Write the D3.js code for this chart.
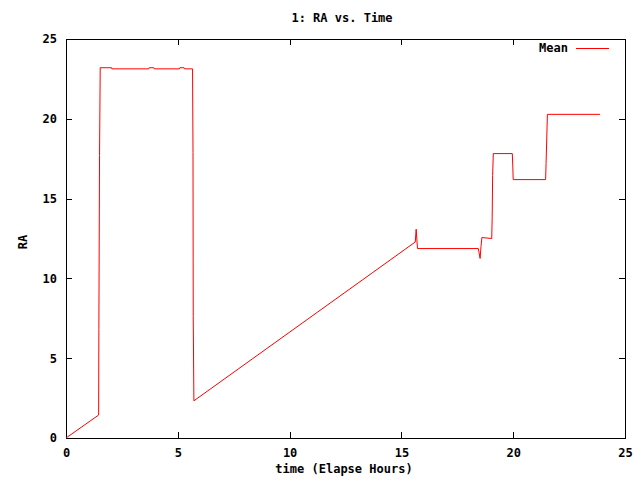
<!DOCTYPE html>
<head>
    <script src="https://d3js.org/d3.v7.min.js"></script>
    <style>
        body { margin: 0; background: #fff; }
        text { font-family: "DejaVu Sans Mono", monospace; font-weight: bold; font-size: 12px; fill: #000; }
    </style>
</head>
<body>
    <div class="container"></div>
    <script>
        // elapsed hours and mean RA
        const times = [0, 1.46, 1.47, 1.50, 1.53, 2.04, 2.05, 3.70, 3.72, 3.93, 3.95, 5.07, 5.09, 5.28, 5.30,
            5.66, 5.68, 5.69, 5.72, 15.62, 15.66, 15.72, 18.44, 18.52, 18.56, 18.60, 19.04, 19.06, 19.08, 19.11,
            19.96, 19.98, 20.00, 21.45, 21.47, 21.53, 23.88];
        const ra = [0, 1.44, 6.8, 17.7, 23.2, 23.2, 23.13, 23.13, 23.2, 23.2, 23.13, 23.13, 23.2, 23.2, 23.13,
            23.13, 17.9, 7.6, 2.33, 12.28, 13.08, 11.87, 11.87, 11.25, 12.0, 12.56, 12.5, 13.8, 16.45, 17.82,
            17.82, 17.1, 16.19, 16.19, 17.2, 20.28, 20.28];
        const xTicks = [0, 5, 10, 15, 20, 25];
        const yTicks = [0, 5, 10, 15, 20, 25];

        const width = 640, height = 480;
        const margin = { top: 39, right: 15, bottom: 42, left: 66 };

        const x = d3.scaleLinear().domain([0, 25]).range([margin.left, width - margin.right]);
        const y = d3.scaleLinear().domain([0, 25]).range([height - margin.bottom, margin.top]);

        const svg = d3.select('.container').append('svg')
            .attr('width', width)
            .attr('height', height);

        const tick = 6;
        const axes = svg.append('g').attr('shape-rendering', 'crispEdges');

        axes.append('g')
            .attr('transform', `translate(0, ${height - margin.bottom})`)
            .call(d3.axisBottom(x).tickValues(xTicks).tickSize(-tick).tickPadding(10).tickFormat(d3.format('d')))
            .call(g => g.select('.domain').remove());
        axes.append('g')
            .attr('transform', `translate(0, ${margin.top})`)
            .call(d3.axisTop(x).tickValues(xTicks).tickSize(-tick).tickFormat(''))
            .call(g => g.select('.domain').remove());
        axes.append('g')
            .attr('transform', `translate(${margin.left}, 0)`)
            .call(d3.axisLeft(y).tickValues(yTicks).tickSize(-tick).tickPadding(9).tickFormat(d3.format('d')))
            .call(g => g.select('.domain').remove());
        axes.append('g')
            .attr('transform', `translate(${width - margin.right}, 0)`)
            .call(d3.axisRight(y).tickValues(yTicks).tickSize(-tick).tickFormat(''))
            .call(g => g.select('.domain').remove());

        axes.selectAll('.tick text')
            .attr('font-family', null).attr('font-size', null);
        axes.selectAll('.tick line').attr('stroke', '#000');

        axes.append('rect')
            .attr('x', margin.left + 0.5)
            .attr('y', margin.top + 0.5)
            .attr('width', width - margin.left - margin.right)
            .attr('height', height - margin.top - margin.bottom)
            .attr('fill', 'none')
            .attr('stroke', '#000');

        const points = times.map((t, i) => [t, ra[i]]);
        svg.append('path')
            .datum(points)
            .attr('fill', 'none')
            .attr('stroke', '#ff0000')
            .attr('stroke-width', 1)
            .attr('d', d3.line().x(d => x(d[0])).y(d => y(d[1])));

        svg.append('text')
            .attr('x', 342).attr('y', 22)
            .attr('text-anchor', 'middle')
            .text('1: RA vs. Time');

        svg.append('text')
            .attr('x', 344).attr('y', 473)
            .attr('text-anchor', 'middle')
            .text('time (Elapse Hours)');

        svg.append('text')
            .attr('transform', 'translate(27, 242) rotate(-90)')
            .attr('text-anchor', 'middle')
            .text('RA');

        // legend
        svg.append('text')
            .attr('x', 568).attr('y', 52)
            .attr('text-anchor', 'end')
            .text('Mean');
        svg.append('line')
            .attr('x1', 576).attr('x2', 609)
            .attr('y1', 48.5).attr('y2', 48.5)
            .attr('stroke', '#ff0000');
    </script>
</body>
</html>
